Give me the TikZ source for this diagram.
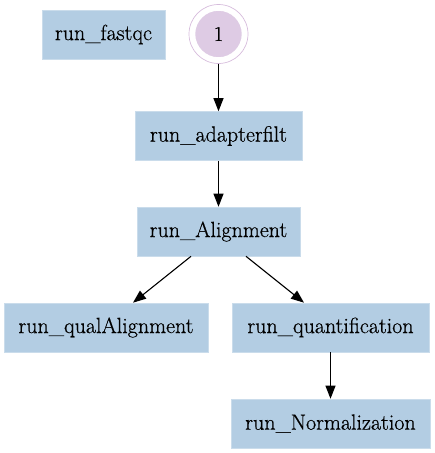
\documentclass[tikz,border=0pt]{standalone}
\usepackage{fontspec}
\setmainfont{Latin Modern Roman}[FakeBold=0.6]
\usetikzlibrary{arrows.meta}
\definecolor{boxblue}{HTML}{B3CDE3}
\definecolor{lav}{HTML}{DECBE4}
\definecolor{ring}{HTML}{D6BCDC}
\begin{document}
\begin{tikzpicture}[x=1pt,y=-1pt,
  task/.style={rectangle,fill=boxblue,draw=boxblue!70!white,line width=0.6pt,minimum height=49pt,inner sep=0pt,font=\fontsize{22}{26}\selectfont},
  startnode/.style={circle,fill=lav,draw=white,line width=2.5pt,minimum size=49pt,inner sep=0pt,font=\fontsize{21}{25}\selectfont},
  conn/.style={-{Triangle[length=13pt,width=10pt]},line width=1.1pt}]
\useasboundingbox (0,0) rectangle (435,453);
\node[task,minimum width=123pt] (fastqc) at (103.5,34.5) {run\_fastqc};
\node[startnode] (one) at (218.5,34) {1};
\draw[ring,line width=0.7pt] (218.5,34) circle (29.5pt);
\node[task,minimum width=167pt] (adapter) at (218.5,136) {run\_adapterfilt};
\node[task,minimum width=163pt] (align) at (218.5,231.5) {run\_Alignment};
\node[task,minimum width=204pt] (qual) at (106,327.5) {run\_qualAlignment};
\node[task,minimum width=197pt] (quant) at (330.5,327.5) {run\_quantification};
\node[task,minimum width=199pt] (norm) at (330.5,423.5) {run\_Normalization};
\coordinate (onebot) at (218.5,63.5);
\draw[conn] (onebot) -- (adapter.north);
\draw[conn] (adapter.south) -- (align.north);
\draw[conn] ([xshift=-27.5pt]align.south) -- ([xshift=27pt]qual.north);
\draw[conn] ([xshift=27.5pt]align.south) -- ([xshift=-26.5pt]quant.north);
\draw[conn] (quant.south) -- (norm.north);
\end{tikzpicture}
\end{document}
